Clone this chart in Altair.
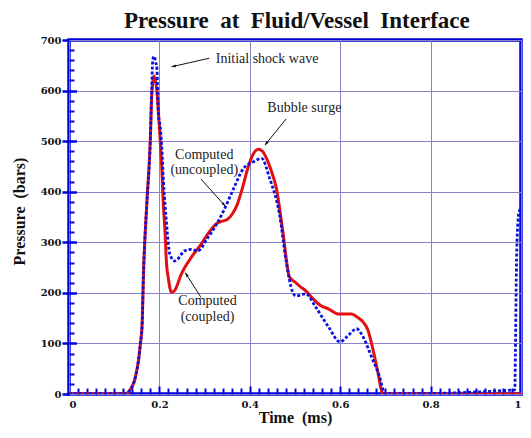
import math
import altair as alt
import pandas as pd

# ---------------- data ----------------
red_t = [0.0, 0.125, 0.1326, 0.147, 0.154, 0.158, 0.1615, 0.165, 0.172, 0.18, 0.183, 0.1885,
         0.194, 0.2015, 0.205, 0.2087, 0.2124, 0.2159, 0.2196, 0.2267, 0.234, 0.2485, 0.256,
         0.272, 0.292, 0.31, 0.328, 0.34, 0.35, 0.362, 0.372, 0.383, 0.3935, 0.405, 0.419,
         0.428, 0.437, 0.448, 0.4587, 0.473, 0.4876, 0.502, 0.512, 0.524, 0.54, 0.5565, 0.575,
         0.596, 0.61, 0.625, 0.638, 0.651, 0.6615, 0.668, 0.676, 0.684, 0.692, 0.697, 1.0]
red_p = [0, 0, 5, 34, 68, 100, 132, 244, 374, 505, 590, 629,
         603, 505, 452, 374, 322, 256, 230, 201, 205, 237, 250,
         272, 296, 320, 338, 342, 345, 357, 374, 405, 440, 470, 484,
         480, 466, 440, 407, 322, 232, 220, 212, 204, 188, 175, 168,
         158, 158, 158, 152, 142, 126, 105, 74, 40, 5, 0, 0]

blue_t = [0.0, 0.125, 0.1326, 0.147, 0.154, 0.158, 0.1615, 0.165, 0.172, 0.18, 0.183, 0.1855,
          0.1885, 0.192, 0.194, 0.198, 0.2015, 0.205, 0.2087, 0.216, 0.2232, 0.234, 0.256,
          0.27, 0.2848, 0.307, 0.328, 0.343, 0.3645, 0.386, 0.408, 0.426, 0.444, 0.466,
          0.4804, 0.495, 0.502, 0.524, 0.5457, 0.5746, 0.5996, 0.618, 0.636, 0.6507, 0.669,
          0.687, 0.696, 0.70, 0.9863, 0.9876, 0.9898, 0.9935, 0.9963, 1.0]
blue_p = [0, 0, 5, 34, 68, 100, 132, 244, 374, 505, 603, 662,
          668, 655, 649, 550, 531, 492, 426, 335, 276, 263, 283,
          286, 283, 309, 338, 364, 407, 446, 459, 466, 426, 354,
          263, 201, 194, 198, 172, 132, 103, 116, 129, 113, 74,
          34, 5, 0, 8, 79, 244, 344, 362, 366]

x_major = [0, 0.2, 0.4, 0.6, 0.8, 1.0]
x_minor = [round(i * 0.02, 2) for i in range(1, 50)]
y_major = [0, 100, 200, 300, 400, 500, 600, 700]
y_minor = [i * 20 for i in range(1, 35)]

title_text = ["Pressure\u00a0 at\u00a0 Fluid/Vessel\u00a0 Interface"]
title_t = [0.504]
title_p = [724]

ann_t = [0.3246, 0.5207, 0.2993, 0.2993, 0.3065, 0.3065]
ann_p = [662, 566, 473, 442, 183, 152]
ann_label = ["Initial shock wave", "Bubble surge", "Computed", "(uncoupled)", "Computed", "(coupled)"]
ann_align = ["left", "center", "center", "center", "center", "center"]

arr_t1 = [0.3102, 0.4804, 0.292, 0.292]
arr_p1 = [664, 544, 425, 191]
arr_t2 = [0.2267, 0.4333, 0.3463, 0.2572]
arr_p2 = [647, 492, 371, 240]

# ---------------- layout ----------------
W, H = 452, 354
RED = "#e21010"
BLUE = "#0a10e0"
AXBLUE = "#0000d8"
GRID = "#8a82c6"

red_df = pd.DataFrame({"t": red_t, "p": red_p})
blue_df = pd.DataFrame({"t": blue_t, "p": blue_p})
ann_df = pd.DataFrame({"t": ann_t, "p": ann_p, "label": ann_label, "align": ann_align})
title_df = pd.DataFrame({"t": title_t, "p": title_p, "label": title_text})

sx = W / 1.0
sy = H / 700.0
angles = []
for a, b, c, d in zip(arr_t1, arr_p1, arr_t2, arr_p2):
    dx = (c - a) * sx
    dy = -(d - b) * sy
    angles.append(math.degrees(math.atan2(dx, -dy)) % 360)
arr_df = pd.DataFrame({"t1": arr_t1, "p1": arr_p1, "t2": arr_t2, "p2": arr_p2, "ang": angles})

xs = alt.Scale(domain=[0, 1], nice=False, zero=False)
ys = alt.Scale(domain=[0, 700], nice=False)

x_axis_main = alt.Axis(orient="bottom", values=x_major, format="~g", title="Time\u00a0 (ms)",
                       grid=True, gridColor=GRID, gridWidth=1, ticks=False, domain=False,
                       labelPadding=5, labelFont="DejaVu Serif", labelFontWeight="bold",
                       labelFontSize=10, labelColor="#111",
                       titleFont="Liberation Serif", titleFontWeight="bold", titleFontSize=16,
                       titleColor="#111", titleY=28, titleBaseline="alphabetic")
y_axis_main = alt.Axis(orient="left", values=y_major, format="d", title="Pressure\u00a0 (bars)",
                       grid=True, gridColor=GRID, gridWidth=1, ticks=True, tickSize=7,
                       tickWidth=2.5, tickColor=AXBLUE, domain=False, labelPadding=1,
                       labelFont="DejaVu Serif", labelFontWeight="bold", labelFontSize=10,
                       labelColor="#111",
                       titleFont="Liberation Serif", titleFontWeight="bold", titleFontSize=16,
                       titleColor="#111", titleX=-50, titleY=171, titleBaseline="middle")

x_axis_in = alt.Axis(orient="top", offset=-H, values=x_minor, labels=False,
                     title=None, grid=False, domain=False, tickColor=AXBLUE,
                     minExtent=0, maxExtent=0,
                     tickSize={"condition": {"test": "abs(datum.value*5 - round(datum.value*5)) < 0.001", "value": 8}, "value": 6},
                     tickWidth=2)
y_axis_in = alt.Axis(orient="right", offset=-W, values=y_minor, labels=False, title=None,
                     grid=False, domain=False, tickColor=AXBLUE,
                     minExtent=0, maxExtent=0,
                     tickSize={"condition": {"test": "datum.value % 100 === 0", "value": 7.5}, "value": 5},
                     tickWidth={"condition": {"test": "datum.value % 100 === 0", "value": 2.5}, "value": 2})

red_line = alt.Chart(red_df).mark_line(color=RED, strokeWidth=3, interpolate="monotone", clip=True).encode(
    x=alt.X("t:Q", scale=xs, axis=x_axis_main),
    y=alt.Y("p:Q", scale=ys, axis=y_axis_main),
)
blue_line = alt.Chart(blue_df).mark_line(color=BLUE, strokeWidth=2.8, strokeDash=[3, 2],
                                         interpolate="monotone", clip=True).encode(
    x=alt.X("t:Q", scale=xs, axis=x_axis_in),
    y=alt.Y("p:Q", scale=ys, axis=y_axis_in),
)
arrows = alt.Chart(arr_df).mark_rule(color="#111", strokeWidth=1).encode(
    x=alt.X("t1:Q", scale=xs, axis=None),
    y=alt.Y("p1:Q", scale=ys, axis=None),
    x2="t2:Q",
    y2="p2:Q",
)
heads = alt.Chart(arr_df).mark_point(shape="M0,0L-0.45,1.4L0.45,1.4Z", filled=True, color="#111",
                                     size=40, opacity=1).encode(
    x=alt.X("t2:Q", scale=xs, axis=None),
    y=alt.Y("p2:Q", scale=ys, axis=None),
    angle=alt.Angle("ang:Q", scale=None),
)
texts_left = alt.Chart(ann_df).transform_filter("datum.align == 'left'").mark_text(
    align="left", baseline="middle", font="Liberation Serif", fontSize=14, color="#222").encode(
    x=alt.X("t:Q", scale=xs, axis=None),
    y=alt.Y("p:Q", scale=ys, axis=None),
    text="label:N",
)
texts_center = alt.Chart(ann_df).transform_filter("datum.align == 'center'").mark_text(
    align="center", baseline="middle", font="Liberation Serif", fontSize=14, color="#222").encode(
    x=alt.X("t:Q", scale=xs, axis=None),
    y=alt.Y("p:Q", scale=ys, axis=None),
    text="label:N",
)
title_mark = alt.Chart(title_df).mark_text(
    align="center", baseline="alphabetic", font="Liberation Serif", fontSize=23,
    fontWeight="bold", color="#111").encode(
    x=alt.X("t:Q", scale=xs, axis=None),
    y=alt.Y("p:Q", scale=ys, axis=None),
    text="label:N",
)

chart = alt.layer(red_line, blue_line, arrows, heads, texts_left, texts_center, title_mark).resolve_axis(
    x="independent", y="independent"
).properties(
    width=W, height=H,
    autosize=alt.AutoSizeParams(type="none"),
    padding={"left": 61, "top": 32, "right": 2, "bottom": 32},
    background="white",
).configure_view(stroke=AXBLUE, strokeWidth=3.5)

chart.save("out.html", embed_options={"renderer": "svg", "actions": False})
